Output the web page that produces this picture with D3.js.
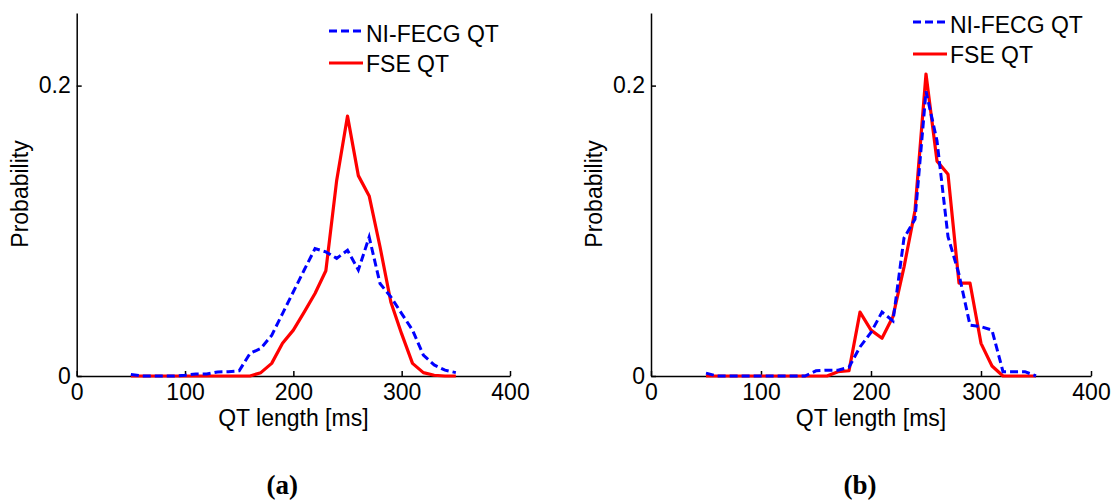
<!DOCTYPE html>
<html>
<head>
<meta charset="utf-8">
<script src="https://cdn.jsdelivr.net/npm/d3@7"></script>
<style>
body { margin: 0; background: #fff; }
text { fill: #000; }
</style>
</head>
<body>
<svg width="1115" height="500"></svg>
<script>
// QT length bins [ms]
var qtBins = [50, 60, 70, 80, 90, 100, 110, 120, 130, 140, 150, 160, 170, 180, 190, 200,
              210, 220, 230, 240, 250, 260, 270, 280, 290, 300, 310, 320, 330, 340, 350]

// panel (a)
var niFecgA = [0.001, 0, 0, 0, 0, 0.0005, 0.0014, 0.0014, 0.0028, 0.003, 0.0036, 0.0156, 0.019, 0.028, 0.043, 0.058,
               0.073, 0.0877, 0.0855, 0.081, 0.0866, 0.073, 0.0957, 0.0637, 0.0545, 0.043, 0.0316, 0.0144, 0.0076, 0.004, 0.0023]
var fseA    = [0, 0, 0, 0, 0, 0, 0, 0, 0, 0, 0, 0, 0.0023, 0.0087, 0.0225, 0.0316,
               0.044, 0.0568, 0.0725, 0.1347, 0.179, 0.138, 0.124, 0.089, 0.051, 0.029, 0.0087, 0.0023, 0.0005, 0, 0]

// panel (b)
var niFecgB = [0.002, 0, 0, 0, 0, 0, 0, 0, 0, 0, 0.0036, 0.004, 0.004, 0.006, 0.02, 0.03,
               0.044, 0.038, 0.095, 0.108, 0.196, 0.162, 0.096, 0.07, 0.035, 0.034, 0.0316, 0.003, 0.003, 0.003, 0]
var fseB    = [0, 0, 0, 0, 0, 0, 0, 0, 0, 0, 0, 0, 0.003, 0.0036, 0.044, 0.0316,
               0.026, 0.041, 0.075, 0.114, 0.208, 0.148, 0.139, 0.064, 0.064, 0.0225, 0.0069, 0, 0, 0, 0]

var xTicks = [0, 100, 200, 300, 400]
var yTicks = [0, 0.2]
var seriesNames = ["NI-FECG QT", "FSE QT"]
var panelLabels = ["(a)", "(b)"]

var sans = "'Liberation Sans', Arial, sans-serif"
var svg = d3.select("svg")

var drawPanel = function(p)
    {
        var xScale = d3.scaleLinear().domain([0, 400]).range([p.left, p.right])
        var yScale = d3.scaleLinear().domain([0, 0.25]).range([376, 13])

        var g = svg.append("g")

        // x axis, ticks pointing inward
        var xAxis = d3.axisBottom(xScale).tickValues(xTicks).tickSize(-5).tickSizeOuter(0).tickPadding(0)
        var gx = g.append("g").attr("transform", "translate(0," + yScale(0) + ")").call(xAxis)
        gx.select(".domain").attr("stroke", "#000").attr("stroke-width", 1.5)
        gx.selectAll(".tick line").attr("stroke", "#000").attr("stroke-width", 1.5)
        gx.selectAll(".tick text").attr("y", 24).attr("dy", null)
            .style("font-size", "23px").style("font-family", sans)

        var yAxis = d3.axisLeft(yScale).tickValues(yTicks).tickSize(-5).tickSizeOuter(0).tickPadding(6)
            .tickFormat(function(d){ return d === 0 ? "0" : d3.format(".1f")(d) })
        var gy = g.append("g").attr("transform", "translate(" + xScale(0) + ",0)").call(yAxis)
        gy.select(".domain").attr("stroke", "#000").attr("stroke-width", 1.5)
        gy.selectAll(".tick line").attr("stroke", "#000").attr("stroke-width", 1.5)
        gy.selectAll(".tick text").style("font-size", "23px").style("font-family", sans)

        g.append("text")
            .attr("x", (p.left + p.right) / 2)
            .attr("y", 426)
            .attr("text-anchor", "middle")
            .style("font-size", "23px").style("font-family", sans)
            .text("QT length [ms]")

        g.append("text")
            .attr("transform", "translate(" + (xScale(0) - 49) + ",194) rotate(-90)")
            .attr("text-anchor", "middle")
            .style("font-size", "23px").style("font-family", sans)
            .text("Probability")

        var line = d3.line()
            .x(function(d){ return xScale(d.x) })
            .y(function(d){ return yScale(d.y) })

        var toPoints = function(vals)
            {
                return qtBins.map(function(b, i){ return {x: b, y: vals[i]} })
            }

        g.append("path")
            .datum(toPoints(p.fse))
            .attr("d", line)
            .attr("fill", "none")
            .attr("stroke", "#ff0000")
            .attr("stroke-width", 3.2)
            .attr("stroke-linejoin", "round")

        g.append("path")
            .datum(toPoints(p.ni))
            .attr("d", line)
            .attr("fill", "none")
            .attr("stroke", "#0000ff")
            .attr("stroke-width", 3)
            .attr("stroke-dasharray", "8,4")

        // legend
        var lg = g.append("g")
        lg.append("line")
            .attr("x1", p.legX).attr("x2", p.legX + 34)
            .attr("y1", p.legY).attr("y2", p.legY)
            .attr("stroke", "#0000ff").attr("stroke-width", 3).attr("stroke-dasharray", "8,4")
        lg.append("line")
            .attr("x1", p.legX).attr("x2", p.legX + 34)
            .attr("y1", p.legY + 32).attr("y2", p.legY + 32)
            .attr("stroke", "#ff0000").attr("stroke-width", 3.2)
        lg.selectAll("text")
            .data(seriesNames)
            .enter()
            .append("text")
            .attr("x", p.legX + 37)
            .attr("y", function(d, i){ return p.legY + 11 + i * 30 })
            .style("font-size", "23px").style("font-family", sans)
            .text(function(d){ return d })

        svg.append("text")
            .attr("x", (p.left + p.right) / 2 - 11)
            .attr("y", 494)
            .attr("text-anchor", "middle")
            .style("font-family", "'Liberation Serif', 'Times New Roman', serif")
            .style("font-weight", "bold")
            .style("font-size", "27px")
            .text(p.label)
    }

drawPanel({left: 76.7, right: 510, ni: niFecgA, fse: fseA, legX: 329, legY: 31, label: panelLabels[0]})
drawPanel({left: 651, right: 1091, ni: niFecgB, fse: fseB, legX: 913, legY: 22, label: panelLabels[1]})
</script>
</body>
</html>
